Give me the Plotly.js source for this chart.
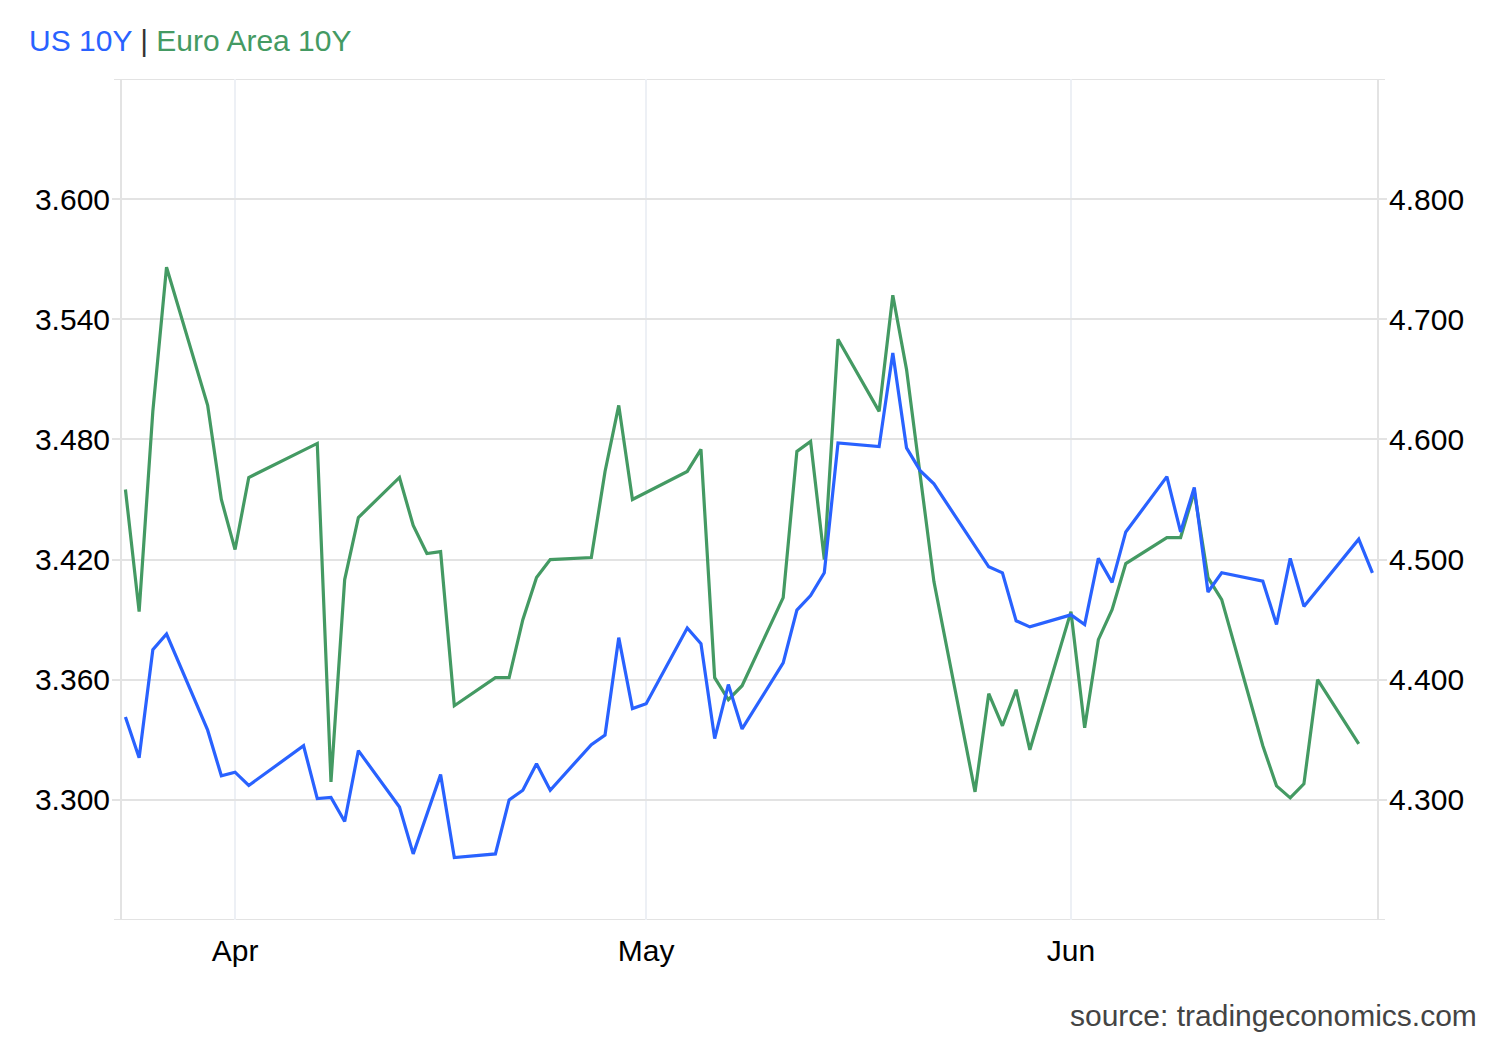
<!DOCTYPE html>
<html>
<head>
<meta charset="utf-8">
<script src="https://cdn.plot.ly/plotly-3.0.1.min.js"></script>
<style>
  html, body { margin: 0; padding: 0; background: #ffffff; }
  #chart { width: 1500px; height: 1040px; }
</style>
</head>
<body>
<div id="chart"></div>
<script>
// ---- data ----
const usDates = [
  '2026-03-24','2026-03-25','2026-03-26','2026-03-27','2026-03-30','2026-03-31',
  '2026-04-01','2026-04-02','2026-04-06','2026-04-07','2026-04-08','2026-04-09','2026-04-10',
  '2026-04-13','2026-04-14','2026-04-16','2026-04-17',
  '2026-04-20','2026-04-21','2026-04-22','2026-04-23','2026-04-24',
  '2026-04-27','2026-04-28','2026-04-29','2026-04-30','2026-05-01',
  '2026-05-04','2026-05-05','2026-05-06','2026-05-07','2026-05-08',
  '2026-05-11','2026-05-12','2026-05-13','2026-05-14','2026-05-15',
  '2026-05-18','2026-05-19','2026-05-20','2026-05-21','2026-05-22',
  '2026-05-26','2026-05-27','2026-05-28','2026-05-29',
  '2026-06-01','2026-06-02','2026-06-03','2026-06-04','2026-06-05',
  '2026-06-08','2026-06-09','2026-06-10','2026-06-11','2026-06-12',
  '2026-06-15','2026-06-16','2026-06-17','2026-06-18',
  '2026-06-22','2026-06-23'
];
const usValues = [
  4.369, 4.335, 4.425, 4.438, 4.358, 4.320,
  4.323, 4.312, 4.345, 4.301, 4.302, 4.282, 4.341,
  4.294, 4.255, 4.321, 4.252,
  4.255, 4.300, 4.308, 4.330, 4.308,
  4.346, 4.354, 4.435, 4.376, 4.380,
  4.443, 4.430, 4.351, 4.396, 4.359,
  4.414, 4.458, 4.470, 4.489, 4.597,
  4.594, 4.672, 4.593, 4.574, 4.563,
  4.494, 4.489, 4.449, 4.444,
  4.454, 4.446, 4.501, 4.481, 4.523,
  4.569, 4.523, 4.560, 4.473, 4.489,
  4.482, 4.446, 4.501, 4.461,
  4.517, 4.489
];

const euDates = [
  '2026-03-24','2026-03-25','2026-03-26','2026-03-27','2026-03-30','2026-03-31',
  '2026-04-01','2026-04-02','2026-04-07','2026-04-08','2026-04-09','2026-04-10',
  '2026-04-13','2026-04-14','2026-04-15','2026-04-16','2026-04-17',
  '2026-04-20','2026-04-21','2026-04-22','2026-04-23','2026-04-24',
  '2026-04-27','2026-04-28','2026-04-29','2026-04-30',
  '2026-05-04','2026-05-05','2026-05-06','2026-05-07','2026-05-08',
  '2026-05-11','2026-05-12','2026-05-13','2026-05-14','2026-05-15',
  '2026-05-18','2026-05-19','2026-05-20','2026-05-22',
  '2026-05-25','2026-05-26','2026-05-27','2026-05-28','2026-05-29',
  '2026-06-01','2026-06-02','2026-06-03','2026-06-04','2026-06-05',
  '2026-06-08','2026-06-09','2026-06-10','2026-06-11','2026-06-12',
  '2026-06-15','2026-06-16','2026-06-17','2026-06-18','2026-06-19',
  '2026-06-22'
];
const euValues = [
  3.455, 3.394, 3.494, 3.566, 3.497, 3.450,
  3.425, 3.461, 3.478, 3.309, 3.410, 3.441,
  3.461, 3.437, 3.423, 3.424, 3.347,
  3.361, 3.361, 3.390, 3.411, 3.420,
  3.421, 3.464, 3.497, 3.450,
  3.464, 3.475, 3.361, 3.350, 3.357,
  3.401, 3.474, 3.479, 3.420, 3.530,
  3.494, 3.552, 3.515, 3.409,
  3.304, 3.353, 3.337, 3.355, 3.325,
  3.394, 3.336, 3.380, 3.395, 3.418,
  3.431, 3.431, 3.454, 3.411, 3.400,
  3.327, 3.307, 3.301, 3.308, 3.360,
  3.328
];

const leftTickVals = [3.30, 3.36, 3.42, 3.48, 3.54, 3.60];
const leftTickText = ['3.300', '3.360', '3.420', '3.480', '3.540', '3.600'];
const rightTickVals = [4.3, 4.4, 4.5, 4.6, 4.7, 4.8];
const rightTickText = ['4.300', '4.400', '4.500', '4.600', '4.700', '4.800'];
const leftRange = [3.24, 3.66];
const rightRange = [4.2, 4.9];
const monthTickVals = ['2026-04-01', '2026-05-01', '2026-06-01'];
const monthTickText = ['Apr', 'May', 'Jun'];

const usName = 'US 10Y';
const euName = 'Euro Area 10Y';
const sourceText = 'source: tradingeconomics.com';

// ---- styles ----
const BLUE = '#2962ff';
const GREEN = '#449a63';
const GRID = '#e3e3e3';
const FONT = '"Liberation Sans", Arial, sans-serif';
const TICKPX = 8;
const plotW = 1500 - 122 - 123;
const tickFrac = TICKPX / plotW;

const traces = [
  {
    x: usDates, y: usValues, name: usName, type: 'scatter', mode: 'lines',
    yaxis: 'y2', line: { color: BLUE, width: 3.2 }, hoverinfo: 'x+y'
  },
  {
    x: euDates, y: euValues, name: euName, type: 'scatter', mode: 'lines',
    yaxis: 'y', line: { color: GREEN, width: 3.2 }, hoverinfo: 'x+y'
  }
];

// top and bottom edge lines of the value grid (with outer tick stubs)
const edgeShapes = [leftRange[0], leftRange[1]].map(v => ({
  type: 'line', xref: 'paper', yref: 'y',
  x0: -tickFrac, x1: 1 + tickFrac, y0: v, y1: v,
  line: { color: GRID, width: 2 }, layer: 'below'
}));

const layout = {
  width: 1500, height: 1040,
  paper_bgcolor: '#ffffff', plot_bgcolor: '#ffffff',
  margin: { l: 122, r: 123, t: 79, b: 120 },
  showlegend: false,
  font: { family: FONT, size: 30, color: '#000000' },
  title: {
    text: '<span style="color:' + BLUE + '">' + usName + '</span>' +
          '<span style="color:#333333"> | </span>' +
          '<span style="color:' + GREEN + '">' + euName + '</span>',
    font: { family: FONT, size: 30 },
    x: 29 / 1500, xanchor: 'left', xref: 'container',
    y: 1 - 40 / 1040, yanchor: 'middle', yref: 'container'
  },
  xaxis: {
    type: 'date',
    range: ['2026-03-23 18:00', '2026-06-23 08:00'],
    tickmode: 'array', tickvals: monthTickVals, ticktext: monthTickText,
    showgrid: true, gridcolor: '#edf0f5', gridwidth: 1.5,
    showline: false, zeroline: false, ticks: '',
    ticklabelstandoff: 10,
    tickfont: { family: FONT, size: 30, color: '#000000' },
    fixedrange: true
  },
  yaxis: {
    range: leftRange,
    tickmode: 'array', tickvals: leftTickVals, ticktext: leftTickText,
    showgrid: true, gridcolor: GRID, gridwidth: 1.5,
    showline: true, linecolor: GRID, linewidth: 2,
    ticks: 'outside', ticklen: TICKPX, tickcolor: GRID, tickwidth: 1.5,
    ticklabelstandoff: -4,
    zeroline: false,
    tickfont: { family: FONT, size: 30, color: '#000000' },
    fixedrange: true
  },
  yaxis2: {
    overlaying: 'y', side: 'right',
    range: rightRange,
    tickmode: 'array', tickvals: rightTickVals, ticktext: rightTickText,
    showgrid: false,
    showline: true, linecolor: GRID, linewidth: 2,
    ticks: 'outside', ticklen: TICKPX, tickcolor: GRID, tickwidth: 1.5,
    ticklabelstandoff: -4,
    zeroline: false,
    tickfont: { family: FONT, size: 30, color: '#000000' },
    fixedrange: true
  },
  shapes: edgeShapes,
  annotations: [
    {
      text: sourceText, showarrow: false,
      xref: 'paper', yref: 'paper',
      x: (1479 - 122) / plotW, xanchor: 'right',
      y: -(1016 - 920) / 841, yanchor: 'middle',
      font: { family: FONT, size: 30, color: '#444444' }
    }
  ]
};

Plotly.newPlot('chart', traces, layout, { displayModeBar: false, responsive: false });
</script>
</body>
</html>
